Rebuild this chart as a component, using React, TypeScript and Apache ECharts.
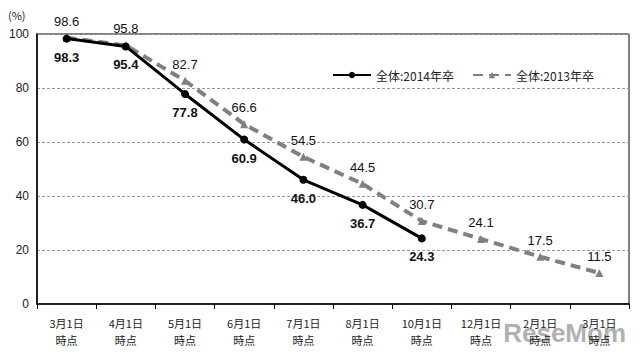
import React, { useEffect, useRef } from "react";
import * as echarts from "echarts";

const categories = ["3月1日\n時点", "4月1日\n時点", "5月1日\n時点", "6月1日\n時点", "7月1日\n時点", "8月1日\n時点", "10月1日\n時点", "12月1日\n時点", "2月1日\n時点", "3月1日\n時点"];
const values2014 = [98.3, 95.4, 77.8, 60.9, 46.0, 36.7, 24.3, null, null, null];
const values2013 = [98.6, 95.8, 82.7, 66.6, 54.5, 44.5, 30.7, 24.1, 17.5, 11.5];
const seriesNames = ["全体:2014年卒", "全体:2013年卒"];

const numFont = "'Liberation Sans', Arial, sans-serif";
const jpFont = "'Noto Sans CJK JP', sans-serif";

export default function App() {
  const ref = useRef<HTMLDivElement>(null);
  useEffect(() => {
    const chart = echarts.init(ref.current!, null, { renderer: "svg" });
    chart.setOption({
      animation: false,
      backgroundColor: "#ffffff",
      grid: {
        left: 37,
        right: 11,
        top: 34,
        bottom: 50,
        show: true,
        borderColor: "#000",
        borderWidth: 1,
        backgroundColor: "transparent",
      },
      legend: {
        top: 64,
        left: 327,
        itemWidth: 38,
        itemHeight: 8,
        itemGap: 18,
        textStyle: { fontSize: 12, color: "#222", fontFamily: jpFont },
        data: seriesNames,
      },
      xAxis: {
        type: "category",
        data: categories,
        boundaryGap: true,
        axisLine: { lineStyle: { color: "#000", width: 1.5 } },
        axisTick: { show: true, length: 5, lineStyle: { color: "#000" } },
        axisLabel: {
          color: "#222",
          fontSize: 11,
          fontFamily: jpFont,
          lineHeight: 17,
          margin: 10,
          interval: 0,
        },
      },
      yAxis: {
        type: "value",
        min: 0,
        max: 100,
        interval: 20,
        axisLine: { show: true, lineStyle: { color: "#000", width: 1.5 } },
        axisTick: { show: false },
        axisLabel: { color: "#222", fontSize: 12, fontFamily: numFont, margin: 8 },
        splitLine: { lineStyle: { color: "#999", type: [3, 2], width: 1 } },
      },
      graphic: [
        {
          type: "text",
          left: 8,
          top: 9,
          style: { text: "(%)", fontSize: 11, fill: "#222", fontFamily: jpFont },
        },
        {
          type: "text",
          right: 14,
          bottom: 8,
          style: {
            text: "ReseMom",
            fontSize: 26,
            fontWeight: "bold",
            fill: "rgba(110,110,110,0.55)",
            fontFamily: numFont,
          },
        },
      ],
      series: [
        {
          name: seriesNames[1],
          type: "line",
          data: values2013,
          z: 2,
          symbol: "triangle",
          symbolSize: 8,
          itemStyle: { color: "#808080" },
          lineStyle: { color: "#808080", width: 4, type: [10, 6] },
          label: {
            show: true,
            position: "top",
            distance: 6,
            fontSize: 13,
            color: "#111",
            fontFamily: numFont,
            formatter: (p: any) => p.value.toFixed(1),
          },
        },
        {
          name: seriesNames[0],
          type: "line",
          data: values2014,
          z: 3,
          symbol: "circle",
          symbolSize: 8,
          itemStyle: { color: "#000" },
          lineStyle: { color: "#000", width: 3 },
          label: {
            show: true,
            position: "bottom",
            distance: 8,
            fontSize: 13,
            fontWeight: "bold",
            color: "#111",
            fontFamily: numFont,
            formatter: (p: any) => (p.value == null ? "" : p.value.toFixed(1)),
          },
        },
      ],
    });
    return () => chart.dispose();
  }, []);
  return <div ref={ref} style={{ width: 640, height: 354, position: "absolute", left: 0, top: 0 }} />;
}
